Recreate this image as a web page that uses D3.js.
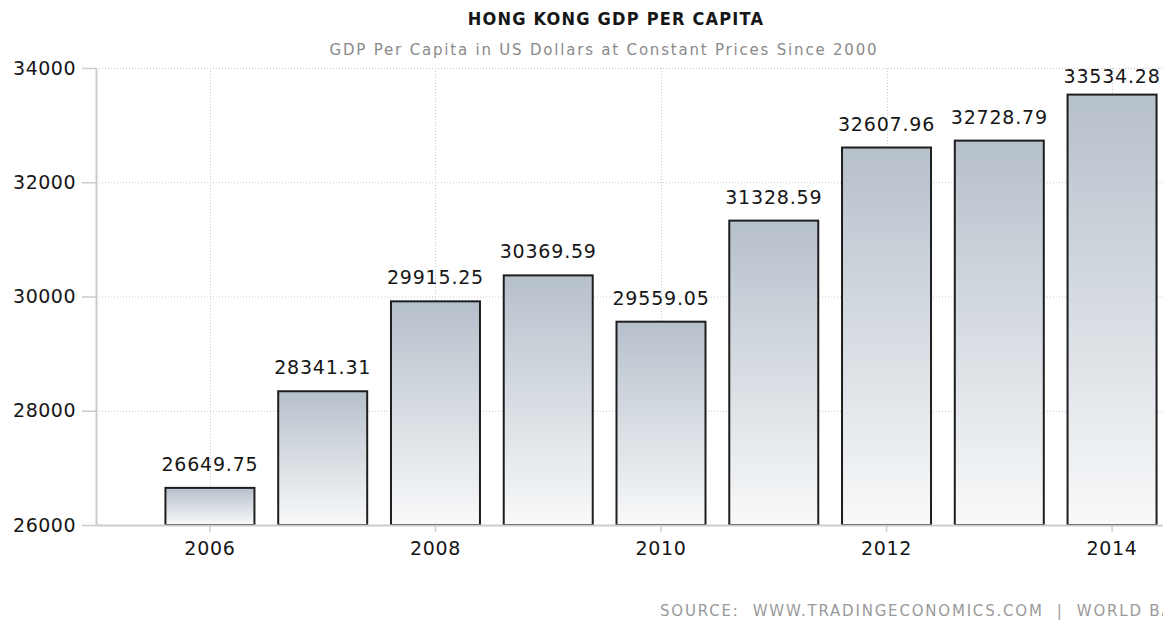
<!DOCTYPE html>
<html>
<head>
<meta charset="utf-8">
<script src="https://cdn.jsdelivr.net/npm/d3@7"></script>
<style>
  html, body { margin: 0; padding: 0; background: #fff; overflow: hidden; }
  svg { display: block; font-family: "DejaVu Sans", Verdana, sans-serif; }
</style>
</head>
<body>
<div id="chart-area"></div>
<script>
// datos
const years = [2006, 2007, 2008, 2009, 2010, 2011, 2012, 2013, 2014];
const gdp = [26649.75, 28341.31, 29915.25, 30369.59, 29559.05, 31328.59, 32607.96, 32728.79, 33534.28];
const yTicks = [26000, 28000, 30000, 32000, 34000];
const xTicks = [2006, 2008, 2010, 2012, 2014];

const width = 1163;
const height = 621;
const plot = {left: 96, top: 68, bottom: 525, right: 1226};

const svg = d3.select("#chart-area")
  .append("svg")
  .attr("width", width)
  .attr("height", height);

// gradiente de barras
const grad = svg.append("defs").append("linearGradient")
  .attr("id", "barGrad")
  .attr("x1", 0).attr("y1", 0).attr("x2", 0).attr("y2", 1);
grad.append("stop").attr("offset", "0%").attr("stop-color", "#b6c0cb");
grad.append("stop").attr("offset", "100%").attr("stop-color", "#f8f9fa");

// escalas
const x = d3.scaleBand().domain(years).range([plot.left, plot.right])
  .paddingInner(0.193).paddingOuter(0.607);
const y = d3.scaleLinear().domain([26000, 34000]).range([plot.bottom, plot.top]);
const cx = (d) => x(d) + x.bandwidth() / 2;

// grid horizontal
svg.append("g").selectAll("line")
  .data(yTicks.filter((t) => t > 26000))
  .enter().append("line")
  .attr("x1", plot.left).attr("x2", width)
  .attr("y1", (d) => y(d) + 0.5).attr("y2", (d) => y(d) + 0.5)
  .attr("stroke", "#c8c8c8").attr("stroke-width", 1)
  .attr("stroke-dasharray", "1,2");

// grid vertical
svg.append("g").selectAll("line")
  .data(xTicks)
  .enter().append("line")
  .attr("x1", (d) => Math.round(cx(d)) + 0.5).attr("x2", (d) => Math.round(cx(d)) + 0.5)
  .attr("y1", plot.top).attr("y2", plot.bottom)
  .attr("stroke", "#c8c8c8").attr("stroke-width", 1)
  .attr("stroke-dasharray", "1,2");

// barras
svg.append("g").selectAll("rect")
  .data(years)
  .enter().append("rect")
  .attr("x", (d) => x(d) + 1)
  .attr("y", (d, i) => y(gdp[i]))
  .attr("width", x.bandwidth() - 2)
  .attr("height", (d, i) => plot.bottom - y(gdp[i]))
  .attr("fill", "url(#barGrad)")
  .attr("stroke", "#1e1e1e")
  .attr("stroke-width", 2);

// ejes
const axisBottom = d3.axisBottom(x).tickValues(xTicks).tickSize(7).tickPadding(10).tickSizeOuter(0);
const axisLeft = d3.axisLeft(y).tickValues(yTicks).tickSize(14).tickPadding(6).tickSizeOuter(0)
  .tickFormat(d3.format("d"));

const xGroup = svg.append("g").attr("transform", `translate(0, ${plot.bottom})`).call(axisBottom);
xGroup.select(".domain").attr("stroke", "#cccccc").attr("stroke-width", 2);
xGroup.selectAll(".tick line").attr("stroke", "#cccccc").attr("stroke-width", 1.5);
xGroup.selectAll(".tick text")
  .attr("font-size", "19px").attr("fill", "#161616")
  .attr("font-family", "DejaVu Sans").attr("letter-spacing", "0.7px");

const yGroup = svg.append("g").attr("transform", `translate(${plot.left}, 0)`).call(axisLeft);
yGroup.select(".domain").attr("stroke", "#cccccc").attr("stroke-width", 2);
yGroup.selectAll(".tick line").attr("stroke", "#cccccc").attr("stroke-width", 1.5);
yGroup.selectAll(".tick text")
  .attr("font-size", "19px").attr("fill", "#161616")
  .attr("font-family", "DejaVu Sans").attr("letter-spacing", "0.5px");

// etiquetas de valor
svg.append("g").selectAll("text")
  .data(years)
  .enter().append("text")
  .attr("x", (d) => cx(d))
  .attr("y", (d, i) => Math.max(y(gdp[i]) - 17, plot.top + 15))
  .attr("text-anchor", "middle")
  .attr("font-size", "19px")
  .attr("letter-spacing", "0.8px")
  .attr("fill", "#161616")
  .text((d, i) => gdp[i].toFixed(2));

// titulo
svg.append("text")
  .attr("x", 616).attr("y", 25)
  .attr("text-anchor", "middle")
  .attr("font-family", "'DejaVu Sans Condensed', 'DejaVu Sans'")
  .attr("font-stretch", "condensed")
  .attr("font-weight", "bold")
  .attr("font-size", "18px")
  .attr("letter-spacing", "1.2px")
  .attr("fill", "#161616")
  .text("HONG KONG GDP PER CAPITA");

svg.append("text")
  .attr("x", 604).attr("y", 55)
  .attr("text-anchor", "middle")
  .attr("font-size", "15px")
  .attr("letter-spacing", "1.8px")
  .attr("fill", "#8a8a8a")
  .text("GDP Per Capita in US Dollars at Constant Prices Since 2000");

// fuente
svg.append("text")
  .attr("x", 660).attr("y", 616)
  .attr("font-size", "15px")
  .attr("letter-spacing", "1.8px")
  .attr("fill", "#9a9a9a")
  .attr("xml:space", "preserve")
  .text("SOURCE:  WWW.TRADINGECONOMICS.COM  |  WORLD BANK");
</script>
</body>
</html>
